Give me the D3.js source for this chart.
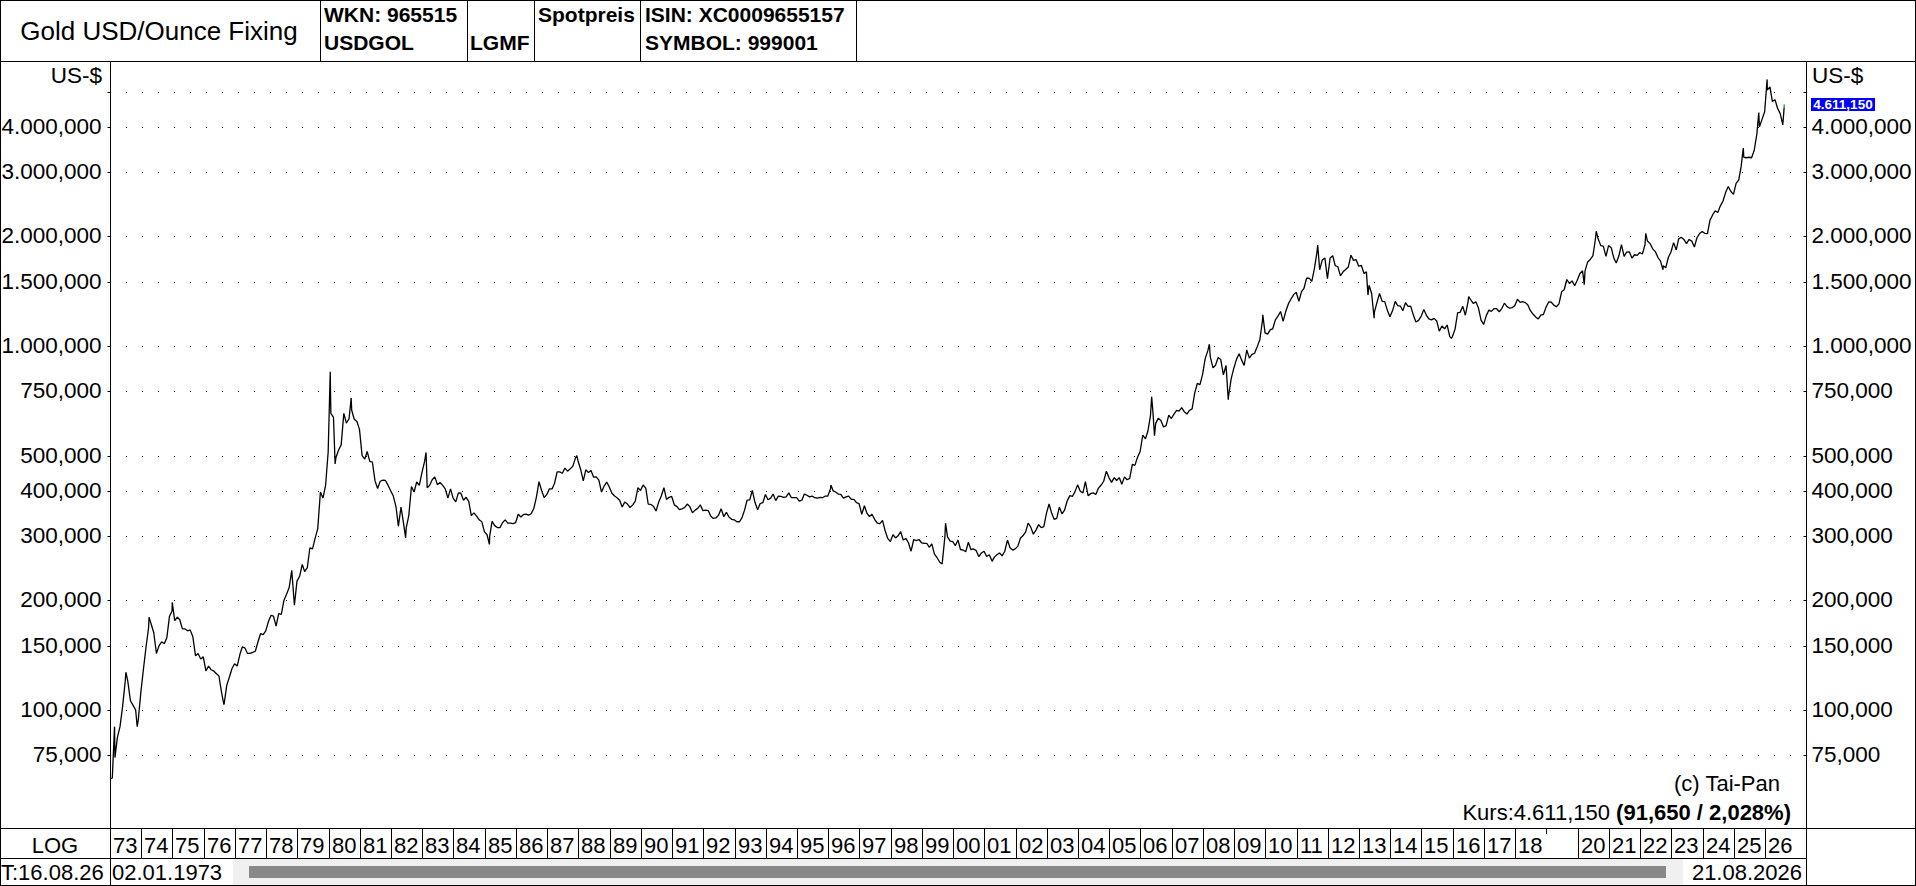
<!DOCTYPE html>
<html>
<head>
<meta charset="utf-8">
<script src="https://cdn.jsdelivr.net/npm/d3@7/dist/d3.min.js"></script>
<style>
body { margin: 0; background: #fff; }
svg { display: block; font-family: "Liberation Sans", Arial, sans-serif; }
</style>
</head>
<body>
<script>
// Gold USD/Ounce fixing, monthly closes (Jan..Dec per row)
var gold1970s = [
    65, 74, 84, 90, 102, 120, 120, 106, 103, 100, 94, 112,
    130, 150, 168, 172, 163, 143, 150, 154, 152, 158, 181, 187,
    176, 180, 177, 167, 167, 165, 166, 159, 141, 143, 138, 140,
    128, 132, 129, 128, 126, 124, 112, 104, 117, 123, 130, 134,
    132, 142, 149, 148, 143, 143, 144, 145, 154, 162, 161, 165,
    175, 182, 181, 170, 184, 183, 200, 208, 217, 242, 194, 226,
    233, 251, 240, 246, 279, 277, 296, 315, 397, 382, 415, 512
];
var gold1980s = [
    653, 637, 494, 518, 535, 653, 614, 631, 666, 629, 620, 590,
    500, 489, 513, 482, 480, 426, 406, 425, 428, 427, 414, 400,
    387, 362, 320, 361, 325, 317, 342, 411, 397, 423, 414, 448,
    481, 408, 414, 429, 437, 416, 422, 414, 405, 382, 405, 382,
    373, 395, 394, 377, 384, 374, 342, 348, 341, 333, 329, 309,
    303, 300, 330, 321, 317, 317, 327, 333, 326, 326, 325, 327,
    345, 339, 344, 345, 343, 346, 357, 384, 424, 401, 383, 391,
    405, 405, 419, 451, 451, 447, 462, 453, 460, 467, 492, 484,
    458, 426, 457, 449, 455, 436, 437, 428, 397, 412, 423, 410,
    394, 387, 383, 377, 361, 373, 368, 360, 366, 375, 408, 401
];
var gold1990s = [
    415, 407, 368, 367, 363, 352, 372, 387, 408, 379, 384, 386,
    366, 362, 355, 357, 360, 368, 362, 348, 354, 358, 366, 353,
    354, 353, 341, 336, 337, 343, 357, 340, 349, 339, 334, 333,
    329, 329, 337, 354, 377, 378, 401, 372, 355, 369, 371, 391,
    378, 382, 392, 376, 387, 386, 384, 385, 395, 383, 383, 383,
    375, 377, 392, 389, 385, 387, 383, 382, 384, 383, 387, 387,
    405, 400, 397, 392, 391, 382, 385, 387, 379, 379, 371, 369,
    345, 364, 348, 340, 345, 334, 326, 325, 332, 311, 296, 290,
    303, 297, 301, 309, 293, 296, 288, 273, 294, 292, 294, 288,
    287, 287, 280, 286, 268, 262, 255, 254, 300, 299, 291, 290
];
var gold2000s = [
    283, 293, 276, 275, 272, 289, 276, 277, 274, 264, 270, 273,
    264, 267, 258, 263, 267, 270, 265, 273, 293, 279, 275, 277,
    282, 297, 301, 308, 326, 318, 304, 312, 323, 317, 319, 347,
    368, 347, 334, 336, 361, 346, 354, 375, 388, 386, 398, 416,
    399, 395, 424, 388, 393, 395, 391, 407, 415, 425, 453, 435,
    422, 435, 427, 435, 417, 437, 429, 433, 473, 470, 495, 513,
    569, 556, 582, 644, 653, 613, 633, 624, 599, 604, 646, 632,
    650, 665, 662, 677, 660, 650, 665, 672, 743, 789, 783, 834,
    923, 971, 933, 871, 885, 930, 918, 833, 884, 730, 815, 869,
    919, 952, 916, 884, 975, 926, 948, 955, 996, 1040, 1175, 1087
];
var gold2010s = [
    1078, 1109, 1115, 1180, 1208, 1244, 1169, 1246, 1307, 1346, 1384, 1405,
    1327, 1411, 1439, 1535, 1536, 1505, 1628, 1813, 1620, 1722, 1746, 1531,
    1744, 1770, 1662, 1651, 1558, 1599, 1622, 1648, 1776, 1719, 1726, 1657,
    1664, 1582, 1598, 1469, 1394, 1235, 1314, 1394, 1327, 1324, 1253, 1204,
    1251, 1326, 1291, 1288, 1250, 1315, 1285, 1286, 1216, 1164, 1176, 1206,
    1260, 1214, 1187, 1180, 1191, 1172, 1098, 1135, 1115, 1142, 1061, 1060,
    1111, 1234, 1237, 1285, 1215, 1320, 1342, 1309, 1322, 1272, 1178, 1146,
    1212, 1255, 1245, 1266, 1266, 1242, 1267, 1311, 1283, 1270, 1275, 1291,
    1345, 1318, 1324, 1316, 1298, 1250, 1224, 1202, 1187, 1215, 1222, 1279,
    1321, 1319, 1295, 1282, 1305, 1409, 1427, 1523, 1485, 1510, 1464, 1515
];
var gold2020s = [
    1582, 1609, 1609, 1702, 1729, 1768, 1971, 1970, 1887, 1880, 1762, 1888,
    1863, 1743, 1691, 1769, 1900, 1763, 1812, 1814, 1743, 1781, 1774, 1806,
    1789, 1900, 1942, 1911, 1849, 1817, 1753, 1711, 1661, 1640, 1753, 1812,
    1923, 1836, 1969, 1990, 1962, 1912, 1962, 1942, 1871, 1983, 2036, 2062,
    2040, 2035, 2214, 2291, 2350, 2327, 2427, 2503, 2643, 2744, 2657, 2610,
    2798, 2859, 3115, 3300, 3290, 3300, 3290, 3450, 3825, 4000, 4200, 4400,
    5050, 5150, 4700, 4750, 4500, 4350, 4050
];

// intra-month highs / lows visible in the picture, and the last two fixings
var extremeDates = [
    "1973-01-02", "1973-02-23", "1973-07-06", "1973-11-15", "1974-04-03", "1974-12-30",
    "1976-08-25", "1980-01-21", "1980-03-18", "1980-09-22", "1982-06-21", "1983-02-15",
    "1985-02-25", "1987-12-14", "1996-02-02", "1999-08-25", "1999-10-05", "2001-04-02",
    "2006-05-12", "2006-06-14", "2008-03-17", "2008-10-24", "2009-12-02", "2011-09-05",
    "2013-04-15", "2013-06-26", "2015-12-17", "2016-07-06", "2020-03-19", "2020-08-06",
    "2022-03-08", "2022-09-26", "2025-04-22", "2025-10-20", "2026-01-26",
    "2026-08-13", "2026-08-14"
];
var extremeValues = [
    64.9, 90, 127, 90, 180, 197.5,
    103.5, 850, 474, 720, 297, 510,
    285, 500, 415, 252, 326, 256,
    725, 567, 1011, 712, 1218, 1895,
    1380, 1192, 1049, 1366, 1474, 2067,
    2039, 1620, 3500, 4380, 5400,
    4519.5, 4611.15
];

var priceTicks = [75, 100, 150, 200, 300, 400, 500, 750, 1000, 1500, 2000, 3000, 4000, 5000];
var unlabeledTicks = [5000];
var yearTicks = d3.range(1973, 2027);
var hiddenYears = [2019];

var W = 1916, H = 886;
var plotLeft = 110, plotRight = 1806, plotTop = 61, plotBottom = 828, rowBottom = 858;

var de = d3.formatLocale({decimal: ",", thousands: ".", grouping: [3], currency: ["", ""]});
var fmt = de.format(",.3f");
var parseDate = d3.timeParse("%Y-%m-%d");

// build the series
var points = [];
var monthly = [].concat(gold1970s, gold1980s, gold1990s, gold2000s, gold2010s, gold2020s);
monthly.forEach(function(v, i) {
    points.push({date: new Date(1973 + Math.floor(i / 12), i % 12, 28), value: v});
});
extremeDates.forEach(function(d, i) {
    points.push({date: parseDate(d), value: extremeValues[i]});
});
points.sort(function(a, b) { return a.date - b.date; });
var last = points[points.length - 1], prev = points[points.length - 2];

var x = d3.scaleTime()
    .domain([new Date(1973, 0, 1), new Date(2026, 0, 1)])
    .range([plotLeft, 1765]);
var y = d3.scaleLog()
    .domain([47.4, 6067])
    .range([plotBottom, plotTop]);

var svg = d3.select("body").append("svg")
    .attr("width", W)
    .attr("height", H);

svg.append("rect").attr("width", W).attr("height", H).attr("fill", "#fff");

function hline(x1, x2, yy) {
    svg.append("line").attr("x1", x1).attr("x2", x2)
        .attr("y1", yy + 0.5).attr("y2", yy + 0.5)
        .attr("stroke", "#000").attr("stroke-width", 1);
}
function vline(xx, y1, y2) {
    svg.append("line").attr("x1", xx + 0.5).attr("x2", xx + 0.5)
        .attr("y1", y1).attr("y2", y2)
        .attr("stroke", "#000").attr("stroke-width", 1);
}

// dotted grid
svg.append("g").selectAll("line")
    .data(priceTicks)
    .enter()
    .append("line")
    .attr("x1", 126)
    .attr("x2", 1800)
    .attr("y1", function(d) { return Math.round(y(d)) + 0.5; })
    .attr("y2", function(d) { return Math.round(y(d)) + 0.5; })
    .attr("stroke", "#000")
    .attr("stroke-dasharray", "1,15");

// price line
svg.append("clipPath").attr("id", "plotclip")
    .append("rect")
    .attr("x", plotLeft).attr("y", plotTop)
    .attr("width", plotRight - plotLeft).attr("height", plotBottom - plotTop);

var line = d3.line()
    .x(function(d) { return x(d.date); })
    .y(function(d) { return y(d.value); });

svg.append("path")
    .datum(points.slice(0, points.length - 1))
    .attr("clip-path", "url(#plotclip)")
    .attr("fill", "none")
    .attr("stroke", "#000")
    .attr("stroke-width", 1.3)
    .attr("stroke-linejoin", "bevel")
    .attr("d", line);

svg.append("path")
    .datum([prev, last])
    .attr("fill", "none")
    .attr("stroke", "#00a000")
    .attr("stroke-width", 1.3)
    .attr("d", line);

// axes
function tickLabel(d) {
    return unlabeledTicks.indexOf(d) >= 0 ? "" : fmt(d);
}
var leftAxis = svg.append("g")
    .attr("transform", "translate(" + (plotLeft + 0.5) + ",0)")
    .call(d3.axisLeft(y).tickValues(priceTicks).tickFormat(tickLabel).tickSizeInner(3).tickSizeOuter(0).tickPadding(6));
var rightAxis = svg.append("g")
    .attr("transform", "translate(" + (plotRight + 0.5) + ",0)")
    .call(d3.axisRight(y).tickValues(priceTicks).tickFormat(tickLabel).tickSizeInner(-3).tickSizeOuter(0).tickPadding(5));
[leftAxis, rightAxis].forEach(function(g) {
    g.select(".domain").remove();
    g.selectAll(".tick line").attr("stroke", "#000");
    g.selectAll(".tick").attr("transform", function(d) {
        return "translate(0," + (Math.round(y(d)) + 0.5) + ")";
    });
    g.selectAll("text")
        .attr("font-family", "Liberation Sans, Arial, sans-serif")
        .attr("font-size", "22.5px")
        .attr("fill", "#000")
        .attr("dy", "0.3em");
});

// frame
svg.append("rect").attr("x", 0.5).attr("y", 0.5)
    .attr("width", W - 1).attr("height", H - 1)
    .attr("fill", "none").attr("stroke", "#000");
hline(0, W, plotTop);
hline(0, W, plotBottom);
hline(0, plotRight, rowBottom);
vline(plotLeft, plotTop, H);
vline(plotRight, plotTop, H);
[320, 467, 534, 640, 856].forEach(function(xx) { vline(xx, 0, plotTop); });

// header
function txt(xx, yy, s, size, weight, anchor, fill) {
    return svg.append("text")
        .attr("x", xx).attr("y", yy)
        .attr("font-size", size + "px")
        .attr("font-weight", weight || "normal")
        .attr("text-anchor", anchor || "start")
        .attr("fill", fill || "#000")
        .text(s);
}
txt(159, 40, "Gold USD/Ounce Fixing", 26, "normal", "middle");
txt(324, 22, "WKN: 965515", 21, "bold");
txt(324, 50, "USDGOL", 21, "bold");
txt(470, 50, "LGMF", 21, "bold");
txt(538, 22, "Spotpreis", 21, "bold");
txt(645, 22, "ISIN: XC0009655157", 21, "bold");
txt(645, 50, "SYMBOL: 999001", 21, "bold");

txt(102, 83, "US-$", 22.5, "normal", "end");
txt(1812, 83, "US-$", 22.5, "normal", "start");

// last price tag
var tagY = y(last.value);
svg.append("rect")
    .attr("x", 1811).attr("y", Math.round(tagY) - 6)
    .attr("width", 64).attr("height", 13)
    .attr("fill", "#0000ff");
txt(1843, Math.round(tagY) + 5, fmt(last.value), 13.5, "bold", "middle", "#fff");

// footer notes
txt(1780, 791, "(c) Tai-Pan", 22, "normal", "end");
var kurs = txt(1791, 820, "Kurs:" + fmt(last.value) + " ", 22, "normal", "end");
var chg = last.value - prev.value;
kurs.append("tspan")
    .attr("font-weight", "bold")
    .text("(" + fmt(chg) + " / " + fmt(chg / prev.value * 100) + "%)");

// year row
txt(55, 853, "LOG", 22, "normal", "middle");
svg.append("g").selectAll("line")
    .data(yearTicks.slice(1))
    .enter()
    .append("line")
    .attr("x1", function(d) { return Math.round(x(new Date(d, 0, 1))) + 0.5; })
    .attr("x2", function(d) { return Math.round(x(new Date(d, 0, 1))) + 0.5; })
    .attr("y1", plotBottom)
    .attr("y2", function(d) { return hiddenYears.indexOf(d) >= 0 ? plotBottom + 6 : rowBottom; })
    .attr("stroke", "#000");
svg.append("g").selectAll("text")
    .data(yearTicks.filter(function(d) { return hiddenYears.indexOf(d) < 0; }))
    .enter()
    .append("text")
    .attr("x", function(d) { return Math.round(x(new Date(d, 0, 1))) + 3; })
    .attr("y", 853)
    .attr("font-size", "22px")
    .text(function(d) { return String(d).slice(2); });

// scroll row
txt(1, 880, "T:16.08.26", 22, "normal", "start");
txt(112, 880, "02.01.1973", 22, "normal", "start");
svg.append("rect").attr("x", 233).attr("y", rowBottom + 1)
    .attr("width", 1683 - 233).attr("height", H - rowBottom - 2)
    .attr("fill", "#f0f0f0");
svg.append("rect").attr("x", 249).attr("y", 866)
    .attr("width", 1666 - 249).attr("height", 12)
    .attr("fill", "#888");
txt(1802, 880, "21.08.2026", 22, "normal", "end");
</script>
</body>
</html>
